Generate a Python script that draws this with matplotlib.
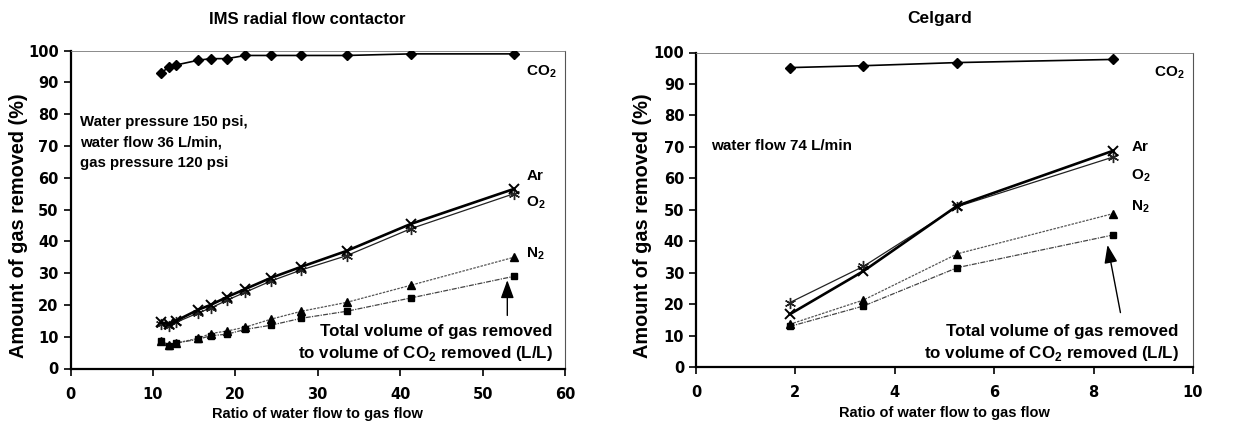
import numpy as np
import matplotlib
matplotlib.use('Agg')
import matplotlib.pyplot as plt

plt.rcParams['font.family'] = ['Liberation Sans', 'DejaVu Sans']
plt.rcParams['font.weight'] = 'bold'
plt.rcParams['mathtext.fontset'] = 'custom'
plt.rcParams['mathtext.rm'] = 'Liberation Sans:bold'
plt.rcParams['mathtext.bf'] = 'Liberation Sans:bold'

# IMS radial flow contactor data
ims_x = [11.0, 12.0, 12.8, 15.5, 17.0, 19.0, 21.2, 24.3, 28.0, 33.5, 41.3, 53.8]
ims_co2 = [93.0, 95.0, 95.5, 97.0, 97.5, 97.5, 98.5, 98.5, 98.5, 98.5, 99.0, 99.0]
ims_ar = [14.5, 14.0, 15.0, 18.5, 20.0, 22.5, 25.0, 28.5, 32.0, 37.0, 45.5, 56.5]
ims_o2 = [14.0, 13.5, 14.5, 17.5, 19.0, 21.5, 24.0, 27.5, 31.0, 35.5, 44.0, 55.0]
ims_n2 = [8.5, 7.5, 8.0, 9.5, 11.0, 11.8, 13.0, 15.5, 18.0, 20.8, 26.2, 35.0]
ims_total = [8.5, 7.2, 8.0, 9.2, 10.3, 10.8, 12.3, 13.6, 15.8, 18.0, 22.2, 29.0]

# Celgard data
cel_x = [1.89, 3.37, 5.26, 8.40]
cel_co2 = [95.2, 95.8, 96.8, 97.8]
cel_ar = [16.8, 30.5, 51.3, 68.8]
cel_o2 = [20.5, 32.0, 51.0, 66.8]
cel_n2 = [13.6, 21.3, 36.0, 48.8]
cel_total = [12.9, 19.4, 31.6, 42.0]

star = (6, 2, 0)
note = 'Total volume of gas removed\nto volume of CO$_2$ removed (L/L)'


def draw_panel(ax, x, co2, ar, o2, n2, total, xmax, xstep, ylab_x):
    ax.plot(x, co2, color='black', lw=1.2, marker='D', ms=4.8, zorder=5)
    ax.plot(x, ar, color='black', lw=1.9, marker='x', ms=7, mew=1.4, zorder=5)
    ax.plot(x, o2, color='#222222', lw=0.9, marker=star, ms=8, mew=1.0, zorder=4)
    ax.plot(x, n2, color='#555555', lw=0.9, ls=(0, (2, 1)), marker='^', ms=5.5,
            mfc='black', mec='black', zorder=4)
    ax.plot(x, total, color='#444444', lw=0.9, ls=(0, (4, 1, 1, 1)), marker='s',
            ms=5, mfc='black', mec='black', zorder=4)
    ax.set_xlim(0, xmax)
    ax.set_ylim(0, 100)
    ax.set_xticks(np.arange(0, xmax + 0.001, xstep))
    ax.set_yticks(np.arange(0, 101, 10))
    ax.tick_params(width=1.2, length=5, direction='out')
    ax.tick_params(axis='x', pad=8)
    for lab in ax.get_xticklabels() + ax.get_yticklabels():
        lab.set_family('DejaVu Sans')
        lab.set_fontweight('bold')
        lab.set_fontsize(10.5)
    ax.spines['left'].set_linewidth(1.6)
    ax.spines['bottom'].set_linewidth(1.6)
    ax.spines['top'].set_linewidth(0.6)
    ax.spines['top'].set_color('#777777')
    ax.spines['right'].set_linewidth(0.8)
    ax.spines['right'].set_color('#555555')
    ax.set_xlabel('Ratio of water flow to gas flow', fontsize=10.5,
                  fontweight='bold', labelpad=4)
    ax.set_ylabel('Amount of gas removed (%)', fontsize=14.3, fontweight='bold')
    ax.yaxis.set_label_coords(ylab_x, 0.45)


fig = plt.figure(figsize=(12.46, 4.26), dpi=100)
ax1 = fig.add_axes([70.5 / 1246, 1 - 368.5 / 426, (565 - 70.5) / 1246, (368.5 - 50.7) / 426])
ax2 = fig.add_axes([696 / 1246, 1 - 367 / 426, (1193 - 696) / 1246, (367 - 52.5) / 426])

draw_panel(ax1, ims_x, ims_co2, ims_ar, ims_o2, ims_n2, ims_total, 60, 10, -0.086)
draw_panel(ax2, cel_x, cel_co2, cel_ar, cel_o2, cel_n2, cel_total, 10, 2, -0.089)

fig.text(307 / 1246, 1 - 19 / 426, 'IMS radial flow contactor', ha='center',
         va='center', fontsize=12, fontweight='bold')
fig.text(940 / 1246, 1 - 19 / 426, 'Celgard', ha='center', va='center',
         fontsize=12.5, fontweight='bold')

kw = dict(fontsize=11, fontweight='bold', va='center')
arrow = dict(arrowstyle='-|>,head_length=1.1,head_width=0.4',
             color='black', lw=1.0, shrinkA=0, shrinkB=0)

# left panel labels
ax1.text(55.3, 93.3, 'CO$_2$', **kw)
ax1.text(55.3, 60.6, 'Ar', **kw)
ax1.text(55.3, 52.2, 'O$_2$', **kw)
ax1.text(55.3, 36.0, 'N$_2$', **kw)
ax1.text(1.2, 71.0, 'Water pressure 150 psi,\nwater flow 36 L/min,\ngas pressure 120 psi',
         fontsize=10.8, fontweight='bold', va='center', ha='left', linespacing=1.6)
ax1.text(58.5, 7.9, note, fontsize=12.2, fontweight='bold', ha='right',
         va='center', linespacing=1.35)
ax1.annotate('', xy=(53.0, 27.8), xytext=(53.0, 16.7), arrowprops=arrow)

# right panel labels
ax2.text(9.22, 93.5, 'CO$_2$', **kw)
ax2.text(8.76, 70.0, 'Ar', **kw)
ax2.text(8.76, 61.0, 'O$_2$', **kw)
ax2.text(8.76, 51.0, 'N$_2$', **kw)
ax2.text(0.3, 70.3, 'water flow 74 L/min', **kw)
ax2.text(9.71, 7.5, note, fontsize=12.2, fontweight='bold', ha='right',
         va='center', linespacing=1.35)
ax2.annotate('', xy=(8.28, 38.8), xytext=(8.54, 17.3), arrowprops=arrow)

fig.savefig('out.png', dpi=100)
